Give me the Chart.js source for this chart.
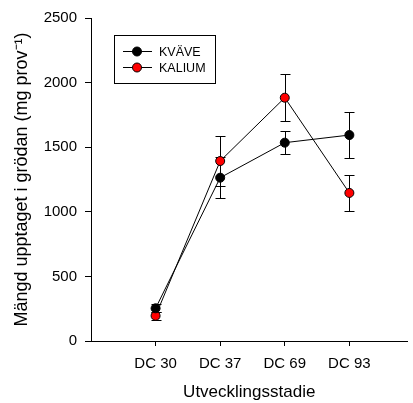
<!DOCTYPE html>
<html>
<head>
<meta charset="utf-8">
<script src="https://cdn.jsdelivr.net/npm/chart.js@4"></script>
<style>
  html, body { margin: 0; padding: 0; background: #fff; }
  #wrap { width: 413px; height: 403px; }
</style>
</head>
<body>
<div id="wrap"><canvas id="chart" width="413" height="403"></canvas></div>
<script>
// Data
const stages = ['DC 30', 'DC 37', 'DC 69', 'DC 93'];
const kvaveMean = [253, 1264, 1535, 1594];
const kvaveErr = [32, 160, 90, 180];
const kaliumMean = [195, 1393, 1883, 1146];
const kaliumErr = [33, 190, 180, 137];
const yTicks = [0, 500, 1000, 1500, 2000, 2500];

const font = 'Arial, "Liberation Sans", sans-serif';

const toPoints = (arr) => arr.map((v, i) => ({ x: i, y: v }));

// error bars drawn behind the markers
const errorBars = {
    id: 'errorBars',
    beforeDatasetsDraw(chart) {
        const { ctx, scales: { x, y } } = chart;
        const errs = [kvaveErr, kaliumErr];
        ctx.save();
        ctx.strokeStyle = '#000';
        ctx.lineWidth = 1;
        chart.data.datasets.forEach((ds, di) => {
            ds.data.forEach((p, i) => {
                const px = Math.round(x.getPixelForValue(p.x)) + 0.5;
                const top = Math.round(y.getPixelForValue(p.y + errs[di][i])) + 0.5;
                const bot = Math.round(y.getPixelForValue(p.y - errs[di][i])) + 0.5;
                ctx.beginPath();
                ctx.moveTo(px, top); ctx.lineTo(px, bot);
                ctx.moveTo(px - 5, top); ctx.lineTo(px + 5, top);
                ctx.moveTo(px - 5, bot); ctx.lineTo(px + 5, bot);
                ctx.stroke();
            });
        });
        ctx.restore();
    }
};

// boxed legend inside the plot, top left
const boxLegend = {
    id: 'boxLegend',
    afterDraw(chart) {
        const { ctx } = chart;
        ctx.save();
        ctx.strokeStyle = '#000';
        ctx.lineWidth = 1;
        ctx.strokeRect(114.5, 35.5, 101, 48);
        chart.data.datasets.forEach((ds, i) => {
            const ly = 51.5 + i * 16;
            ctx.beginPath();
            ctx.moveTo(123, ly); ctx.lineTo(152, ly);
            ctx.stroke();
            ctx.beginPath();
            ctx.arc(137, ly, 4.5, 0, Math.PI * 2);
            ctx.fillStyle = ds.pointBackgroundColor;
            ctx.fill();
            ctx.stroke();
            ctx.fillStyle = '#000';
            ctx.font = '12.5px ' + font;
            ctx.textBaseline = 'middle';
            ctx.fillText(ds.label, 159, ly + 1);
        });
        ctx.restore();
    }
};

new Chart(document.getElementById('chart'), {
    type: 'line',
    data: {
        datasets: [
            {
                label: 'KVÄVE',
                data: toPoints(kvaveMean),
                borderColor: '#000',
                borderWidth: 1,
                pointBackgroundColor: '#000',
                pointBorderColor: '#000',
                pointBorderWidth: 1,
                pointRadius: 4.5
            },
            {
                label: 'KALIUM',
                data: toPoints(kaliumMean),
                borderColor: '#000',
                borderWidth: 1,
                pointBackgroundColor: '#ff0000',
                pointBorderColor: '#000',
                pointBorderWidth: 1,
                pointRadius: 4.5
            }
        ]
    },
    options: {
        responsive: false,
        animation: false,
        layout: { padding: { top: 18, right: 4, left: 0, bottom: 0 } },
        plugins: { legend: { display: false }, tooltip: { enabled: false } },
        scales: {
            x: {
                type: 'linear',
                min: -1,
                max: 3.9,
                afterBuildTicks: (s) => { s.ticks = stages.map((_, i) => ({ value: i })); },
                afterFit: (s) => { s.height = 62; },
                ticks: {
                    callback: (v) => stages[v],
                    color: '#000',
                    font: { family: font, size: 15 },
                    padding: 9,
                    maxRotation: 0
                },
                grid: { display: true, drawOnChartArea: false, drawTicks: true, tickLength: 5, color: '#000' },
                border: { display: true, color: '#000', width: 1 },
                title: {
                    display: true,
                    text: 'Utvecklingsstadie',
                    color: '#000',
                    font: { family: font, size: 17 },
                    padding: { top: 4, bottom: 0 }
                }
            },
            y: {
                min: 0,
                max: 2500,
                afterBuildTicks: (s) => { s.ticks = yTicks.map(v => ({ value: v })); },
                afterFit: (s) => { s.width = 91; },
                ticks: {
                    callback: (v) => String(v),
                    color: '#000',
                    font: { family: font, size: 15 },
                    padding: 8
                },
                grid: { display: true, drawOnChartArea: false, drawTicks: true, tickLength: 6, color: '#000' },
                border: { display: true, color: '#000', width: 1 },
                title: {
                    display: true,
                    text: 'Mängd upptaget i grödan (mg prov⁻¹)',
                    color: '#000',
                    font: { family: font, size: 18 },
                    padding: { top: 11, bottom: 0 }
                }
            }
        }
    },
    plugins: [errorBars, boxLegend]
});
</script>
</body>
</html>
